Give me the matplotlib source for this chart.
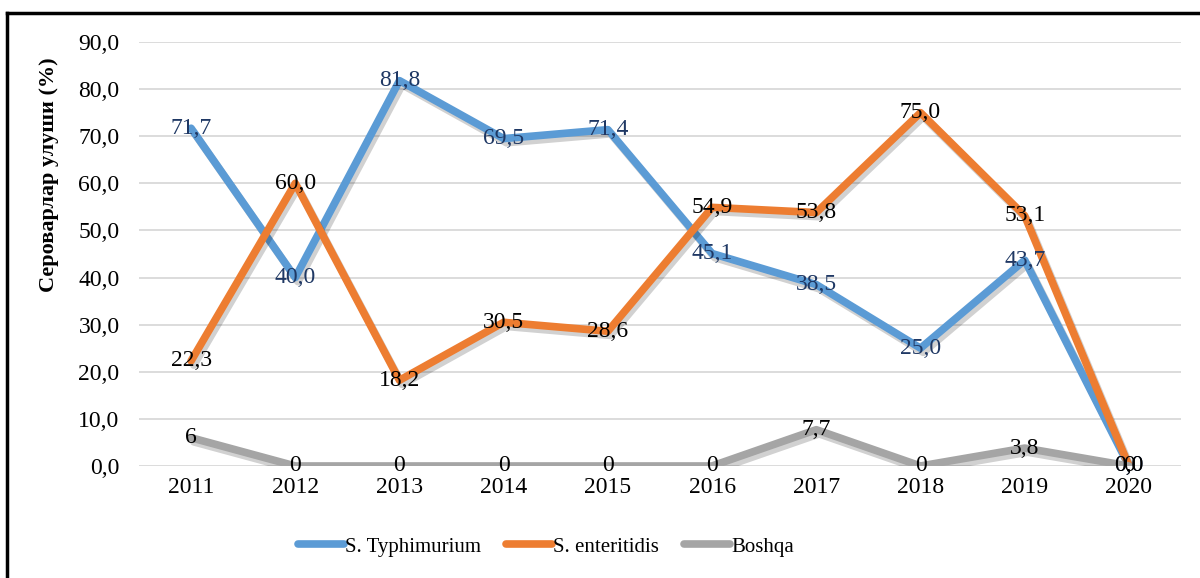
import matplotlib.pyplot as plt
import matplotlib.patheffects as pe
from matplotlib.lines import Line2D
import numpy as np

plt.rcParams['font.family'] = ['Liberation Serif', 'DejaVu Serif']

# Данные
years = ['2011', '2012', '2013', '2014', '2015', '2016', '2017', '2018', '2019', '2020']
typhimurium = [71.7, 40.0, 81.8, 69.5, 71.4, 45.1, 38.5, 25.0, 43.7, 0.0]
enteritidis = [22.3, 60.0, 18.2, 30.5, 28.6, 54.9, 53.8, 75.0, 53.1, 0.0]
boshqa = [6, 0, 0, 0, 0, 0, 7.7, 0, 3.8, 0]

fig = plt.figure(figsize=(12, 5.78), dpi=100)
ax = fig.add_axes([0.1158, 0.1938, 0.8684, 0.7335])

x = np.arange(len(years))
shadow = [pe.SimpleLineShadow(offset=(2, -3), shadow_color='black', alpha=0.18), pe.Normal()]

series = [
    (typhimurium, '#5B9BD5', 'S. Typhimurium', '#1F3864', lambda v: f"{v:.1f}"),
    (enteritidis, '#ED7D31', 'S. enteritidis', 'black', lambda v: f"{v:.1f}"),
    (boshqa, '#A5A5A5', 'Boshqa', 'black', lambda v: f"{v:g}"),
]
for i, (vals, col, name, tcol, fmt) in enumerate(series):
    ax.plot(x, vals, color=col, lw=5.5, label=name, solid_capstyle='round',
            solid_joinstyle='round', path_effects=shadow, zorder=3 + i)

for i, (vals, col, name, tcol, fmt) in enumerate(series):
    for xi, v in zip(x, vals):
        ax.text(xi, v, fmt(v).replace('.', ','), ha='center', va='center',
                fontsize=17, color=tcol, zorder=10)

ax.set_xlim(-0.5, len(years) - 0.5)
ax.set_ylim(0, 90)
ax.set_yticks(np.arange(0, 91, 10))
ax.set_yticklabels([f"{v:.1f}".replace('.', ',') for v in np.arange(0, 91, 10)])
ax.set_xticks(x)
ax.set_xticklabels(years)
ax.tick_params(length=0, labelsize=17, pad=8)
ax.tick_params(axis='y', pad=14)
ax.grid(axis='y', color='#D9D9D9', lw=1.3)
ax.set_axisbelow(True)
for s in ax.spines.values():
    s.set_visible(False)

ax.set_ylabel('Сероварлар улуши (%)', fontsize=16, fontweight='bold')
ax.yaxis.set_label_coords(-0.077, 0.686)

leg = ax.legend(loc='center', bbox_to_anchor=(0.455, 0.054), bbox_transform=fig.transFigure,
                ncol=3, frameon=False, fontsize=15, handlelength=2.2, handletextpad=0.05,
                columnspacing=1.2)
for h in leg.get_lines():
    h.set_path_effects([])
    h.set_linewidth(5.5)

# рамка
fig.add_artist(Line2D([0.006, 1.0], [0.977, 0.977], color='black', lw=2.5, transform=fig.transFigure))
fig.add_artist(Line2D([0.006, 0.006], [0.0, 0.977], color='black', lw=2.5, transform=fig.transFigure))

fig.savefig('out.png', dpi=100)
